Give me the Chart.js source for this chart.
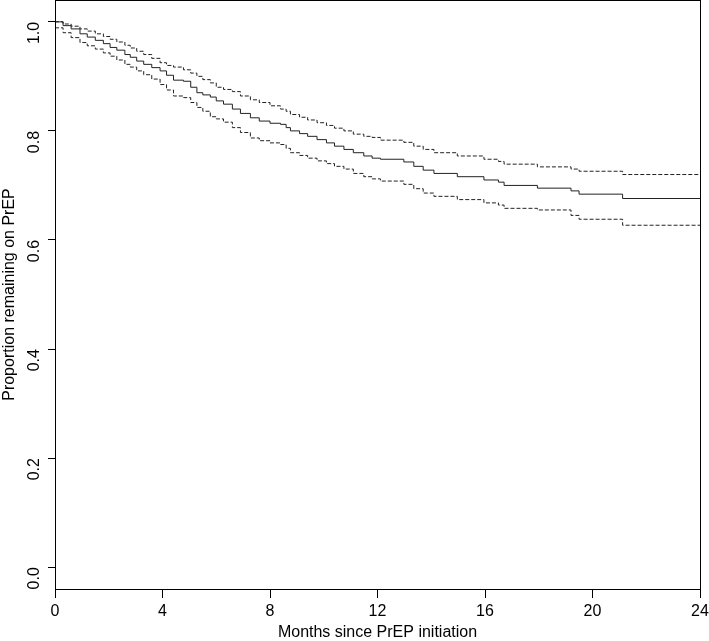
<!DOCTYPE html>
<html>
<head>
<meta charset="utf-8">
<script src="https://cdn.jsdelivr.net/npm/chart.js@4"></script>
<style>
  html, body { margin: 0; padding: 0; background: #fff; }
  #wrap { width: 709px; height: 641px; }
</style>
</head>
<body>
<div id="wrap"><canvas id="km"></canvas></div>
<script>
// months at which the estimate steps down
const months = [0, 0.3, 0.6, 0.93, 1.2, 1.5, 1.8, 2.05, 2.3, 2.6, 2.8, 3.04, 3.3, 3.6, 3.91,
  4.15, 4.41, 4.78, 5.05, 5.28, 5.5, 5.78, 6.0, 6.27, 6.6, 6.9, 7.27, 7.6, 8.0, 8.39, 8.6,
  8.76, 9.1, 9.4, 9.75, 10.1, 10.4, 10.75, 11.1, 11.49, 11.8, 12.11, 12.98, 13.35, 13.7,
  14.1, 14.97, 15.96, 16.5, 16.71, 17.95, 19.2, 19.5, 21.12, 24];

const survival = [1.000, 0.993, 0.987, 0.978, 0.972, 0.966, 0.960, 0.953, 0.948, 0.940, 0.935,
  0.928, 0.922, 0.916, 0.910, 0.902, 0.893, 0.891, 0.880, 0.870, 0.866, 0.862, 0.855, 0.849,
  0.840, 0.832, 0.824, 0.818, 0.814, 0.812, 0.806, 0.800, 0.795, 0.790, 0.784, 0.778, 0.772,
  0.766, 0.760, 0.754, 0.750, 0.748, 0.743, 0.735, 0.728, 0.722, 0.716, 0.710, 0.706, 0.700,
  0.695, 0.690, 0.684, 0.676, 0.676];

const upper = [1.000, 0.996, 0.992, 0.987, 0.983, 0.978, 0.973, 0.968, 0.963, 0.957, 0.952,
  0.946, 0.940, 0.933, 0.925, 0.920, 0.917, 0.912, 0.906, 0.900, 0.894, 0.888, 0.880, 0.876,
  0.872, 0.864, 0.857, 0.852, 0.846, 0.840, 0.836, 0.830, 0.825, 0.820, 0.815, 0.810, 0.805,
  0.800, 0.794, 0.790, 0.788, 0.783, 0.779, 0.772, 0.766, 0.760, 0.754, 0.748, 0.744, 0.739,
  0.734, 0.730, 0.726, 0.720, 0.720];

const lower = [0.989, 0.980, 0.971, 0.962, 0.956, 0.950, 0.943, 0.937, 0.930, 0.922, 0.917,
  0.910, 0.903, 0.895, 0.885, 0.875, 0.864, 0.861, 0.852, 0.843, 0.836, 0.826, 0.822, 0.816,
  0.806, 0.797, 0.787, 0.782, 0.778, 0.775, 0.768, 0.760, 0.755, 0.750, 0.745, 0.740, 0.735,
  0.730, 0.722, 0.716, 0.712, 0.708, 0.702, 0.694, 0.686, 0.680, 0.674, 0.668, 0.664, 0.658,
  0.655, 0.645, 0.638, 0.627, 0.627];

const xTicks = [0, 4, 8, 12, 16, 20, 24];
const yTicks = [0.0, 0.2, 0.4, 0.6, 0.8, 1.0];

function toPoints(vals) {
  return months.map((m, i) => ({ x: m, y: vals[i] }));
}

function curve(vals, dashed) {
  return {
    data: toPoints(vals),
    borderColor: '#222',
    borderWidth: 1,
    borderDash: dashed ? [4, 2] : [],
    stepped: true,
    pointRadius: 0,
    fill: false,
  };
}

// R style box round the plot region
const boxPlugin = {
  id: 'box',
  afterDraw(chart) {
    const a = chart.chartArea;
    const ctx = chart.ctx;
    ctx.save();
    ctx.strokeStyle = '#000';
    ctx.lineWidth = 1;
    ctx.strokeRect(Math.round(a.left) + 0.5, Math.round(a.top) + 0.5,
      Math.round(a.right - a.left), Math.round(a.bottom - a.top));
    ctx.restore();
  }
};

const font = { family: 'Liberation Sans, Arial, sans-serif', size: 16 };

new Chart(document.getElementById('km'), {
  type: 'line',
  data: {
    datasets: [curve(survival, false), curve(upper, true), curve(lower, true)]
  },
  options: {
    responsive: true,
    maintainAspectRatio: false,
    animation: false,
    layout: { padding: { top: 0, right: 9, left: 0, bottom: 0 } },
    plugins: { legend: { display: false }, tooltip: { enabled: false } },
    scales: {
      x: {
        type: 'linear',
        min: 0,
        max: 24,
        afterBuildTicks: s => { s.ticks = xTicks.map(v => ({ value: v })); },
        afterFit: s => { s.height = 52; s.paddingLeft = 0; s.paddingRight = 0; },
        grid: { display: true, drawOnChartArea: false, tickLength: 9, color: '#000' },
        border: { display: true, color: '#000' },
        ticks: { color: '#000', font: font, padding: 4, maxRotation: 0 },
        title: { display: true, text: 'Months since PrEP initiation', color: '#000',
          font: { family: font.family, size: 16, lineHeight: 1.0 }, padding: { top: 0, bottom: 0 } },
      },
      y: {
        type: 'linear',
        min: -0.04,
        max: 1.04,
        afterBuildTicks: s => { s.ticks = yTicks.map(v => ({ value: v })); },
        afterFit: s => { s.width = 55; s.paddingTop = 0; s.paddingBottom = 0; },
        grid: { display: true, drawOnChartArea: false, tickLength: 7, color: '#000' },
        border: { display: true, color: '#000' },
        ticks: { color: '#000', font: font, padding: 13, minRotation: 90, maxRotation: 90,
          callback: v => v.toFixed(1) },
        title: { display: true, text: 'Proportion remaining on PrEP', color: '#000', font: font, padding: { top: 0, bottom: 2 } },
      }
    }
  },
  plugins: [boxPlugin]
});
</script>
</body>
</html>
